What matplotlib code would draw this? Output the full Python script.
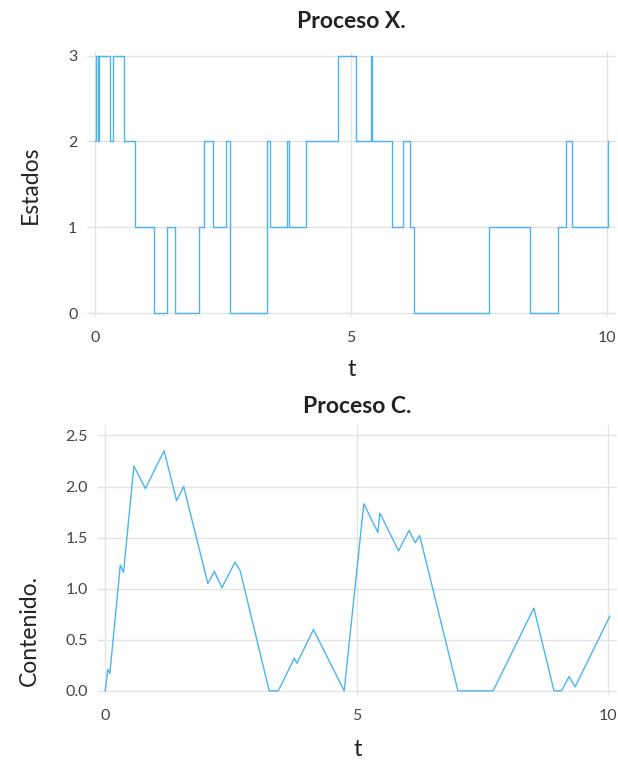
import matplotlib
matplotlib.use("Agg")
import matplotlib.pyplot as plt

plt.rcParams['font.family'] = ['Lato', 'DejaVu Sans']

# Proceso X (estados, saltos)
t_x = [0, 0.03, 0.06, 0.08, 0.29, 0.36, 0.565, 0.79, 1.16, 1.40, 1.56, 2.03,
       2.14, 2.31, 2.56, 2.64, 3.36, 3.42, 3.75, 3.80, 4.12, 4.74, 5.10, 5.39,
       5.42, 5.80, 6.01, 6.15, 6.24, 7.69, 8.50, 9.05, 9.20, 9.31, 10.03]
x_states = [2, 3, 2, 3, 2, 3, 2, 1, 0, 1, 0, 1, 2, 1, 2, 0, 2, 1, 2, 1, 2,
            3, 2, 3, 2, 1, 2, 1, 0, 1, 0, 1, 2, 1, 2]

# Proceso C (contenido)
t_c = [0, 0.054, 0.093, 0.30, 0.365, 0.57, 0.80, 1.17, 1.42, 1.56, 2.04,
       2.17, 2.32, 2.58, 2.68, 3.26, 3.44, 3.76, 3.81, 4.14, 4.75, 5.14,
       5.42, 5.46, 5.83, 6.04, 6.16, 6.25, 7.01, 7.71, 8.52, 8.92, 9.07,
       9.22, 9.34, 10.03]
c_vals = [0, 0.21, 0.17, 1.23, 1.16, 2.20, 1.98, 2.35, 1.86, 2.0, 1.05,
          1.17, 1.01, 1.26, 1.18, 0, 0, 0.32, 0.27, 0.60, 0, 1.83,
          1.55, 1.74, 1.37, 1.57, 1.45, 1.52, 0, 0, 0.81, 0, 0,
          0.14, 0.04, 0.73]

x_ticks = [0, 5, 10]
line_color = '#4cb4f0'
grid_color = '#e4e4e4'
tick_color = '#444444'


def style_axes(ax):
    for s in ax.spines.values():
        s.set_visible(False)
    ax.grid(True, color=grid_color, linewidth=1)
    ax.set_axisbelow(True)
    ax.tick_params(length=0, labelsize=11.5, colors=tick_color)
    ax.tick_params(axis='x', pad=10)
    ax.tick_params(axis='y', pad=7)
    ax.set_xticks(x_ticks)


fig = plt.figure(figsize=(6.18, 7.62), dpi=100)

ax1 = fig.add_axes([0.141, 0.584, 0.856, 0.348])
ax1.step(t_x, x_states, where='post', color=line_color, linewidth=1)
style_axes(ax1)
ax1.set_xlim(-0.15, 10.18)
ax1.set_ylim(-0.045, 3.045)
ax1.set_yticks([0, 1, 2, 3])
ax1.set_title('Proceso X.', fontsize=16.5, fontweight='bold', pad=17, color='#222222')
ax1.set_xlabel('t', fontsize=17, labelpad=10, color='#222222')
ax1.set_ylabel('Estados', fontsize=16.5, color='#222222')
ax1.yaxis.set_label_coords(-0.088, 0.5)

ax2 = fig.add_axes([0.158, 0.088, 0.841, 0.354])
ax2.plot(t_c, c_vals, color=line_color, linewidth=1)
style_axes(ax2)
ax2.set_xlim(-0.15, 10.18)
ax2.set_ylim(-0.04, 2.6)
ax2.set_yticks([0, 0.5, 1.0, 1.5, 2.0, 2.5])
ax2.set_yticklabels(['0.0', '0.5', '1.0', '1.5', '2.0', '2.5'])
ax2.set_title('Proceso C.', fontsize=16.5, fontweight='bold', pad=9, color='#222222')
ax2.set_xlabel('t', fontsize=17, labelpad=12, color='#222222')
ax2.set_ylabel('Contenido.', fontsize=16.5, color='#222222')
ax2.yaxis.set_label_coords(-0.112, 0.24)

fig.savefig('out.png', dpi=100)
